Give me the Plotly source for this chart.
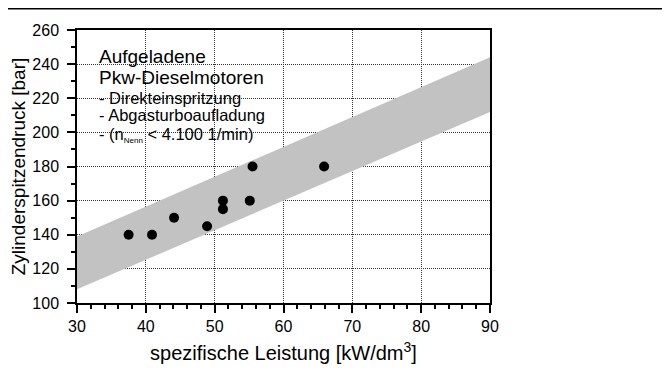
import plotly.graph_objects as go

# Data
band_x = [30, 90]
band_lower = [108, 212]
band_upper = [139, 244]

pts_x = [37.5, 40.9, 44.1, 48.9, 51.2, 51.2, 55.1, 55.5, 65.9]
pts_y = [140, 140, 150, 145, 160, 155, 160, 180, 180]

x_ticks = [30, 40, 50, 60, 70, 80, 90]
y_ticks = [100, 120, 140, 160, 180, 200, 220, 240, 260]

FONT = "Liberation Sans, Arial, sans-serif"

fig = go.Figure()
fig.add_trace(go.Scatter(x=band_x, y=band_lower, mode="lines",
                         line=dict(width=0), showlegend=False, hoverinfo="skip"))
fig.add_trace(go.Scatter(x=band_x, y=band_upper, mode="lines",
                         line=dict(width=0), fill="tonexty",
                         fillcolor="#c2c2c2", showlegend=False, hoverinfo="skip"))
fig.add_trace(go.Scatter(x=pts_x, y=pts_y, mode="markers",
                         marker=dict(color="black", size=10),
                         showlegend=False))

# page has an 8px body margin -> work in figure coords shifted by 8
OFF = 8
W, H = 662, 362
L, T = 77 - OFF, 30 - OFF
R = W - (490 - OFF)
B = H - (303 - OFF)
pw, ph = W - L - R, H - T - B

common = dict(showline=True, linecolor="black", linewidth=1.5, mirror=True,
              ticks="outside", ticklen=8, tickwidth=1.5, tickcolor="black",
              showgrid=True, gridcolor="#333333", griddash="1px,1px", gridwidth=1,
              zeroline=False, automargin=False, tickfont=dict(size=16))

fig.update_layout(
    width=W, height=H,
    margin=dict(l=L, r=R, t=T, b=B, autoexpand=False),
    plot_bgcolor="white", paper_bgcolor="white",
    font=dict(family=FONT, color="black", size=16),
    xaxis=dict(range=[30, 90], tickvals=x_ticks,
               minor=dict(dtick=2, ticks="outside", ticklen=4, tickcolor="black",
                          showgrid=False),
               title=dict(text="spezifische Leistung [kW/dm<sup>3</sup>]",
                          font=dict(size=20), standoff=12),
               **common),
    yaxis=dict(range=[100, 260], tickvals=y_ticks,
               minor=dict(dtick=10, ticks="outside", ticklen=4, tickcolor="black",
                          showgrid=False),
               ticklabelstandoff=5,
               title=dict(text="Zylinderspitzendruck [bar]", font=dict(size=19),
                          standoff=8),
               **common),
)

def px_x(p):
    return (p - OFF - L) / pw

def px_y(p):
    return 1 - (p - OFF - T) / ph

# top rule across the whole image (as high as the page allows)
fig.add_shape(type="line", xref="paper", yref="paper",
              x0=px_x(OFF), x1=px_x(OFF + W),
              y0=px_y(OFF + 0.8), y1=px_y(OFF + 0.8),
              line=dict(color="black", width=1.5))

head = ["Aufgeladene", "Pkw-Dieselmotoren"]
head_base = [61, 82]
for txt, yb in zip(head, head_base):
    fig.add_annotation(xref="paper", yref="paper", x=px_x(97), y=px_y(yb + 8),
                       xanchor="left", yanchor="bottom", align="left", showarrow=False,
                       text=txt, font=dict(size=19, family=FONT))

sub = ["- Direkteinspritzung", "- Abgasturboaufladung",
       "- (n<sub><span style='font-size:8px'>Nenn</span></sub> &lt; 4.100 1/min)"]
sub_base = [102, 119, 136]
sub_pad = [7, 7, 11]
for txt, yb, pd in zip(sub, sub_base, sub_pad):
    fig.add_annotation(xref="paper", yref="paper", x=px_x(97), y=px_y(yb + pd),
                       xanchor="left", yanchor="bottom", align="left", showarrow=False,
                       text=txt, font=dict(size=16.5, family=FONT))

fig.write_html("out.html")
